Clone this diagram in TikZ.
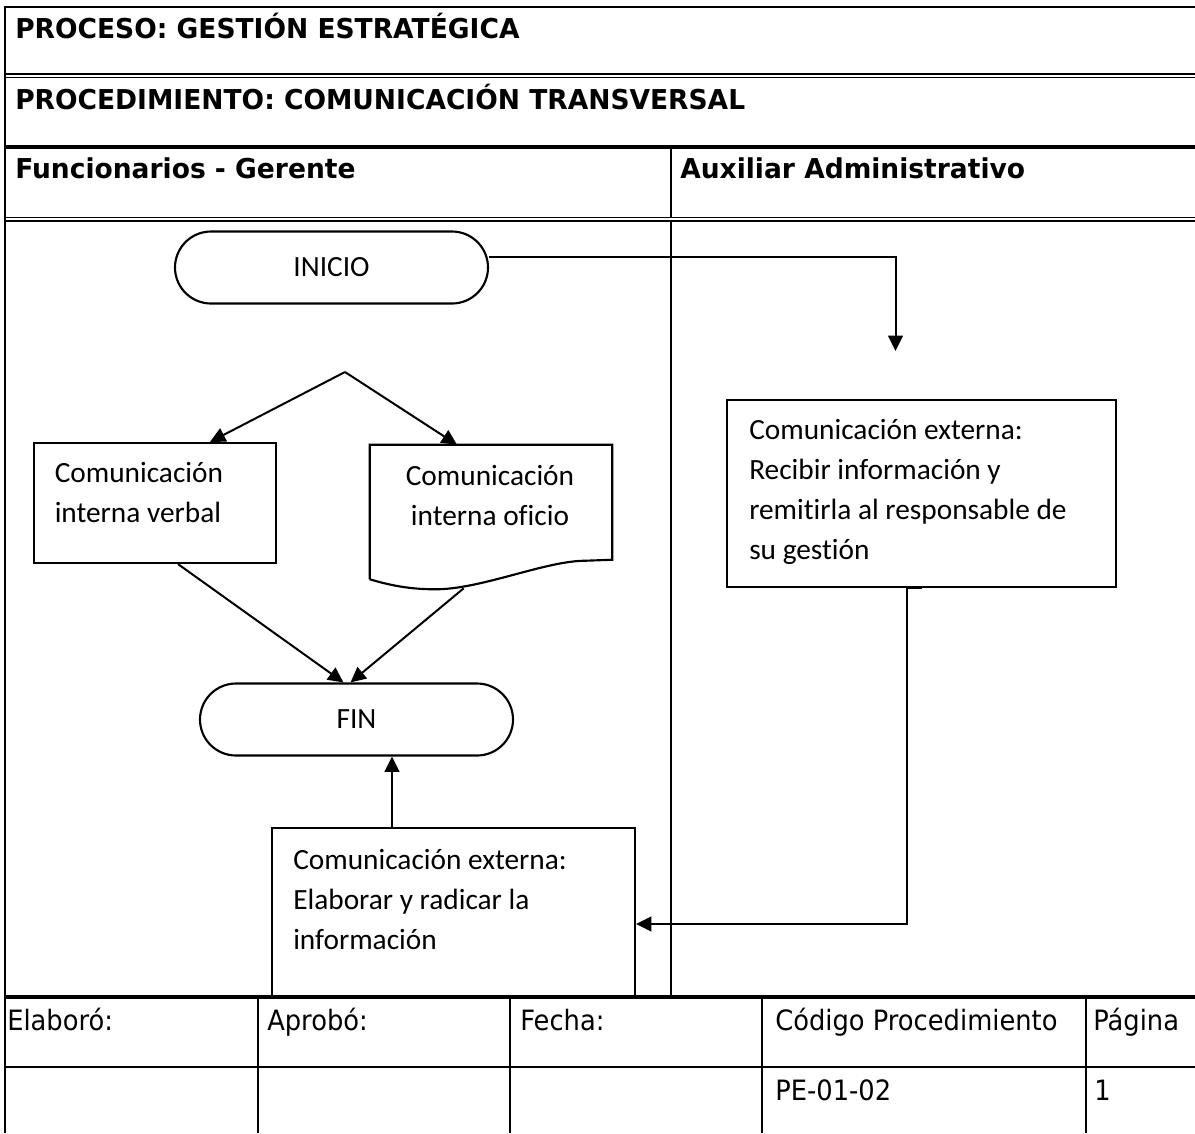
\documentclass[tikz,border=0pt]{standalone}
\usepackage{fontspec}
\setmainfont[Ligatures=NoCommon]{Carlito}
\newfontfamily\hdfont[FakeStretch=0.97]{DejaVu Sans}
\newfontfamily\ftfont[FakeStretch=0.92]{DejaVu Sans}
\usetikzlibrary{shapes.misc,arrows.meta,calc}
\tikzset{
  tbthin/.style={line width=1.5pt},
  tbthick/.style={line width=2.6pt},
  tbdbl/.style={line width=1.2pt},
  boxline/.style={line width=1.6pt},
  box/.style={draw, line width=1.6pt, inner sep=0pt},
  term/.style={draw, rounded rectangle, line width=1.6pt, minimum width=234.75pt,
    minimum height=54pt, inner sep=0pt, font=\fontsize{22}{30}\selectfont},
  conn/.style={line width=1.5pt, -{Triangle[length=11.5pt,width=11pt]}},
  hd/.style={inner sep=0pt, font=\hdfont\bfseries\fontsize{20.5}{24}\selectfont},
  ft/.style={inner sep=0pt, font=\ftfont\fontsize{21}{25}\selectfont},
  txt/.style={inner sep=0pt, align=left, font=\fontsize{22}{30}\selectfont},
}
\begin{document}
\begin{tikzpicture}[x=0.75pt,y=-0.75pt]
\useasboundingbox (0,0) rectangle (1195,1133);
% table frame
\draw[tbthin] (4.5,6.5) -- (1195,6.5);
\draw[tbthin] (4.5,5.8) -- (4.5,1133);
\draw[tbdbl] (4.5,74) -- (1195,74);
\draw[tbdbl] (4.5,77.5) -- (1195,77.5);
\draw[tbthick] (4.5,147) -- (1195,147);
\draw[tbdbl] (4.5,217.5) -- (1195,217.5);
\draw[tbdbl] (4.5,221) -- (1195,221);
\draw[tbthin] (670.5,147) -- (670.5,217);
\draw[tbthin] (670.5,221) -- (670.5,997);
\draw[tbthick] (4.5,997) -- (1195,997);
\draw[tbthin] (4.5,1067) -- (1195,1067);
\foreach \cx in {258,510,762,1086} \draw[tbthin] (\cx,997) -- (\cx,1133);
% headers
\node[hd, anchor=base west] (t1) at (15,38) {PROCESO: GESTIÓN ESTRATÉGICA};
\node[hd, anchor=base west] (t2) at (15,109) {PROCEDIMIENTO: COMUNICACIÓN TRANSVERSAL};
\node[hd, anchor=base west] (t3) at (15,178) {Funcionarios - Gerente};
\node[hd, anchor=base west] (t4) at (680,178) {Auxiliar Administrativo};
% footer
\node[ft, anchor=base west] (f1) at (7,1030) {Elaboró:};
\node[ft, anchor=base west] (f2) at (267,1030) {Aprobó:};
\node[ft, anchor=base west] (f3) at (520,1030) {Fecha:};
\node[ft, anchor=base west] (f4) at (775,1030) {Código Procedimiento};
\node[ft, anchor=base west] (f5) at (1093,1030) {Página};
\node[ft, anchor=base west] (f6) at (775,1100) {PE-01-02};
\node[ft, anchor=base west] (f7) at (1094,1100) {1};
% flowchart shapes
\node[term] (inicio) at (331.5,267.5) {INICIO};
\node[term] (fin) at (356.5,719.5) {FIN};
\node[box, minimum width=181.5pt, minimum height=90pt] (verbal) at (155,503) {};
\node[inner sep=0pt, minimum width=181.5pt, minimum height=100.5pt] (oficio) at (491,512) {};
\draw[boxline] (oficio.south west) -- (oficio.north west) -- (oficio.north east)
  -- ($(oficio.north east)+(0,115)$) -- ($(oficio.north east)+(-27,116)$)
  .. controls ($(oficio.north east)+(-67,116)$) and ($(oficio.north east)+(-132,145)$) .. ($(oficio.south west)+(65,10)$)
  .. controls ($(oficio.south west)+(40,10)$) and ($(oficio.south west)+(20,6)$) .. (oficio.south west);
\node[box, minimum width=291.75pt, minimum height=140.25pt] (recibir) at (921.5,493.5) {};
\node[box, minimum width=272.25pt, minimum height=126pt] (elab) at (453.5,912) {};
% texts in shapes
\node[txt, anchor=west] (verbalT) at (54.5,493) {Comunicación\\interna verbal};
\node[txt, align=center] (oficioT) at (490,496) {Comunicación\\interna oficio};
\node[txt, anchor=west] (recibirT) at (749,492) {Comunicación externa:\\Recibir información y\\remitirla al responsable de\\su gestión};
\node[txt, anchor=west] (elabT) at (293,899) {Comunicación externa:\\Elaborar y radicar la\\información};
% connectors
\coordinate (tipA) at ($(recibir.north)+(-26,-48)$);
\draw[conn] ($(inicio.east)+(0,-10.5)$) -| (tipA);
\coordinate (split) at (345,372);
\draw[conn] (split) -- ($(verbal.north)+(55,0)$);
\draw[conn] (split) -- ($(oficio.north)+(-34,0)$);
\draw[conn] ($(verbal.south)+(23,0)$) -- ($(fin.north)+(-13,0)$);
\draw[conn] ($(oficio.south west)+(94,9)$) -- ($(fin.north)+(-6,0)$);
\coordinate (u) at ($(elab.north)+(-61.5,0)$);
\draw[conn] (u) -- (u |- fin.south);
\draw[conn] (recibir.south) -- ++(-14.5,0) |- ($(elab.east)+(0,12)$);
\end{tikzpicture}
\end{document}
